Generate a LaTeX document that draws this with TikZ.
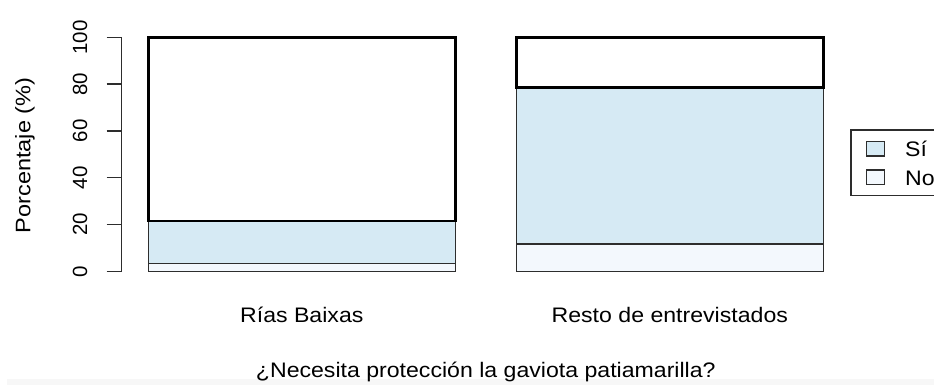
\documentclass[tikz,border=0pt]{standalone}
\usepackage{fontspec}
\setmainfont{Liberation Sans}
\usepackage{graphicx}
\definecolor{siColor}{RGB}{214,234,244}
\definecolor{noColor}{RGB}{243,248,253}
\definecolor{lineGray}{RGB}{45,45,45}
\definecolor{stripGray}{RGB}{247,247,247}
\tikzset{
  seglow/.style={draw=lineGray, line width=1.6pt},
  segtop/.style={draw=black, line width=2.8pt, fill=white},
  axisline/.style={draw=lineGray, line width=1.5pt},
  ticklab/.style={inner sep=0pt, rotate=90, font=\fontsize{20.5}{24}\selectfont},
  labtext/.style={inner sep=0pt, font=\fontsize{21}{25}\selectfont},
  legframe/.style={draw=lineGray, line width=1.4pt, fill=white},
  legkey/.style={draw=lineGray, line width=1.4pt}
}
\begin{document}
\begin{tikzpicture}[x=1pt, y=-1pt]
\useasboundingbox (0,0) rectangle (934,385);
% faint strip at the bottom
\fill[stripGray] (7,379) rectangle (934,385);

% y axis
\draw[axisline] (121.7,37.3) -- (121.7,271.3);
\foreach \v in {0,20,40,60,80,100}{
  \pgfmathsetmacro{\yy}{271.3-2.34*\v}
  \draw[axisline] (106.7,\yy) -- (121.7,\yy);
  \node[ticklab] (tick\v) at (80,\yy) {\v};
}
\node[labtext, rotate=90] (ylab) at (25,155.5) {\scalebox{1.12}[1]{Porcentaje (\%)}};

% left bar: No 0-3.4, Si 3.4-21.5, rest 21.5-100
\path[seglow, fill=noColor] (148.3,271.3) rectangle (455.3,263.3);
\path[seglow, fill=siColor] (148.3,263.3) rectangle (455.3,221.0);
\path[segtop] (148.3,221.0) rectangle (455.3,37.3);

% right bar: No 0-11.8, Si 11.8-78.6, rest 78.6-100
\path[seglow, fill=noColor] (516.3,271.3) rectangle (823.3,243.7);
\path[seglow, fill=siColor] (516.3,243.7) rectangle (823.3,87.3);
\path[segtop] (516.3,87.3) rectangle (823.3,37.3);

% category labels
\node[labtext, anchor=base] (catA) at (301.8,322.3) {\scalebox{1.1}[1]{Rías Baixas}};
\node[labtext, anchor=base] (catB) at (669.8,322.3) {\scalebox{1.1}[1]{Resto de entrevistados}};

% x title
\node[labtext, anchor=base] (xtitle) at (485.8,377.7) {\scalebox{1.1}[1]{¿Necesita protección la gaviota patiamarilla?}};

% legend
\path[legframe] (851,130) rectangle (940,195.7);
\path[legkey, fill=siColor] (866.7,141.7) rectangle (884.3,156);
\path[legkey, fill=noColor] (866.7,170) rectangle (884.3,184.3);
\node[labtext, anchor=base west] (legSi) at (905,156.5) {\scalebox{1.1}[1]{Sí}};
\node[labtext, anchor=base west] (legNo) at (905,185) {\scalebox{1.1}[1]{No}};
\end{tikzpicture}
\end{document}
